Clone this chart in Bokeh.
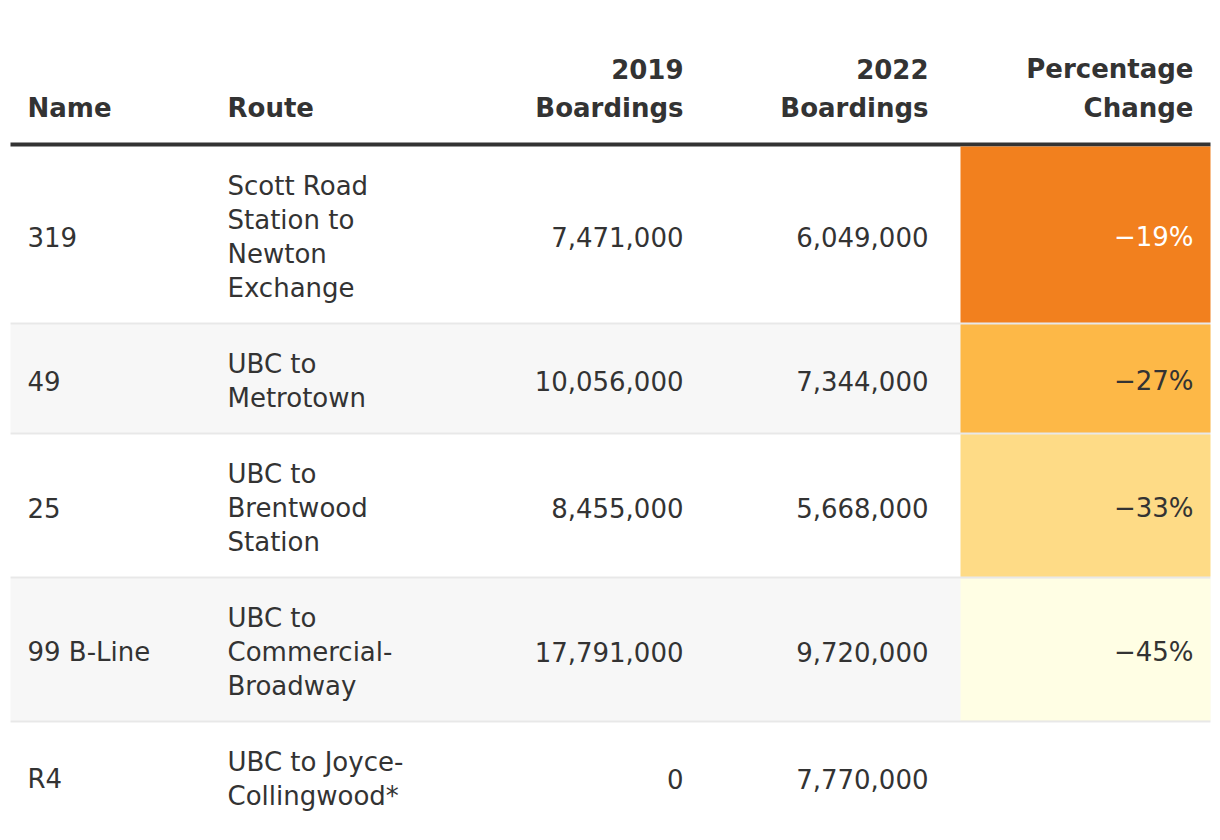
from bokeh.plotting import figure
from bokeh.models import Range1d, ColumnDataSource
from bokeh.core.properties import value
from bokeh.embed import file_html
from bokeh.resources import INLINE

# ---- data ----
names = ["319", "49", "25", "99 B-Line", "R4"]
routes = ["Scott Road\nStation to\nNewton\nExchange", "UBC to\nMetrotown",
          "UBC to\nBrentwood\nStation", "UBC to\nCommercial-\nBroadway",
          "UBC to Joyce-\nCollingwood*"]
boardings_2019 = [7471000, 10056000, 8455000, 17791000, 0]
boardings_2022 = [6049000, 7344000, 5668000, 9720000, 7770000]
pct_change = [-19, -27, -33, -45, None]
headers = ["Name", "Route", "2019\nBoardings", "2022\nBoardings", "Percentage\nChange"]

# ---- style ----
FONT = "DejaVu Sans"
TXT = "#333333"
cell_colors = {-19: "#f2801e", -27: "#fdb847", -33: "#fedb86", -45: "#fffee4"}
cell_text = {-19: "#ffffff", -27: TXT, -33: TXT, -45: TXT}
BODY_SIZE = "26px"
HEAD_SIZE = "26px"
LINE_H = 34
PAD = 20
LEFT, RIGHT = 10, 1210
col_x = [27, 227, 683, 928, 1193]
col_align = ["left", "left", "right", "right", "right"]
PCT_LEFT = 960
HEAD_TOP = 142
HEAD_BOTTOM = 146
SEP = 2
TEXT_DY = 2

W, H = 1212, 832
p = figure(width=W, height=H, output_backend="svg", toolbar_location=None,
           x_range=Range1d(0, W), y_range=Range1d(H, 0),
           min_border=0)
p.axis.visible = False
p.grid.visible = False
p.outline_line_color = None
p.background_fill_color = "white"
p.border_fill_color = "white"

# header
htx, hty, htt, hta = [], [], [], []
for i, h in enumerate(headers):
    lines = h.split("\n")
    n = len(lines)
    for k, ln in enumerate(lines):
        htx.append(col_x[i])
        hty.append(107 - (n - 1 - k) * 39)
        htt.append(ln)
        hta.append(col_align[i])
p.text(x="x", y="y", text="t", text_align="a",
       source=ColumnDataSource(dict(x=htx, y=hty, t=htt, a=hta)),
       text_font=value(FONT), text_font_style="bold", text_font_size=HEAD_SIZE,
       text_color=TXT, text_baseline="middle")
p.quad(left=[LEFT], right=[RIGHT], top=[HEAD_TOP], bottom=[HEAD_BOTTOM],
       fill_color="#333333", line_color=None)

# rows
y = HEAD_BOTTOM
bg = dict(l=[], r=[], t=[], b=[], c=[])
sep = dict(l=[], r=[], t=[], b=[])
tx = dict(x=[], y=[], t=[], a=[], c=[])
for i in range(len(names)):
    rlines = routes[i].split("\n")
    h = len(rlines) * LINE_H + 2 * PAD
    top, bot = y, y + h
    mid = (top + bot) / 2 + TEXT_DY
    if i % 2 == 1:
        bg["l"].append(LEFT); bg["r"].append(RIGHT); bg["t"].append(top); bg["b"].append(bot); bg["c"].append("#f7f7f7")
    pc = pct_change[i]
    if pc is not None:
        bg["l"].append(PCT_LEFT); bg["r"].append(RIGHT); bg["t"].append(top); bg["b"].append(bot); bg["c"].append(cell_colors[pc])
    # texts
    tx["x"].append(col_x[0]); tx["y"].append(mid); tx["t"].append(names[i]); tx["a"].append("left"); tx["c"].append(TXT)
    n = len(rlines)
    for k, ln in enumerate(rlines):
        tx["x"].append(col_x[1]); tx["y"].append(mid + (k - (n - 1) / 2) * LINE_H)
        tx["t"].append(ln); tx["a"].append("left"); tx["c"].append(TXT)
    tx["x"].append(col_x[2]); tx["y"].append(mid); tx["t"].append(f"{boardings_2019[i]:,}"); tx["a"].append("right"); tx["c"].append(TXT)
    tx["x"].append(col_x[3]); tx["y"].append(mid); tx["t"].append(f"{boardings_2022[i]:,}"); tx["a"].append("right"); tx["c"].append(TXT)
    if pc is not None:
        tx["x"].append(col_x[4]); tx["y"].append(mid); tx["t"].append(f"\u2212{abs(pc)}%"); tx["a"].append("right"); tx["c"].append(cell_text[pc])
    if i < len(names) - 1:
        sep["l"].append(LEFT); sep["r"].append(RIGHT); sep["t"].append(bot); sep["b"].append(bot + SEP)
    y = bot + SEP

p.quad(left="l", right="r", top="t", bottom="b", fill_color="c", line_color=None,
       source=ColumnDataSource(bg))
p.quad(left="l", right="r", top="t", bottom="b", fill_color="black", fill_alpha=0.09,
       line_color=None, source=ColumnDataSource(sep))
p.text(x="x", y="y", text="t", text_align="a", text_color="c",
       source=ColumnDataSource(tx), text_font=value(FONT), text_font_size=BODY_SIZE,
       text_baseline="middle")

open("out.html", "w").write(file_html(p, INLINE))
